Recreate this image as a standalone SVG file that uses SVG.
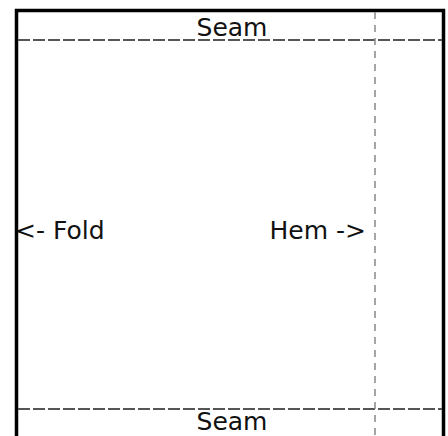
<svg xmlns="http://www.w3.org/2000/svg" width="448" height="436" viewBox="0 0 448 436">
<style>
.lbl{font-family:"DejaVu Sans",sans-serif;font-size:25px;fill:#111}
.seam{stroke:#555;stroke-width:2;stroke-dasharray:12 3;fill:none}
.hem{stroke:#888;stroke-width:1.5;stroke-dasharray:7 6;fill:none}
</style>
<rect width="448" height="436" fill="#fff"/>
<g id="frame"><path d="M16.5 440 V10.5 H443.5 V440" fill="none" stroke="#000" stroke-width="3.5"/></g>
<g id="connectors">
<line class="seam" x1="18" y1="40" x2="442" y2="40"/>
<line class="seam" x1="18" y1="409" x2="442" y2="409"/>
<line class="hem" x1="375" y1="12" x2="375" y2="436"/>
</g>
<g id="seam-top"><text class="lbl" x="232" y="36" text-anchor="middle">Seam</text></g>
<g id="seam-bottom"><text class="lbl" x="232" y="430" text-anchor="middle">Seam</text></g>
<g id="fold"><text class="lbl" x="15" y="239">&lt;- Fold</text></g>
<g id="hem"><text class="lbl" x="366" y="239" text-anchor="end">Hem -&gt;</text></g>
</svg>
